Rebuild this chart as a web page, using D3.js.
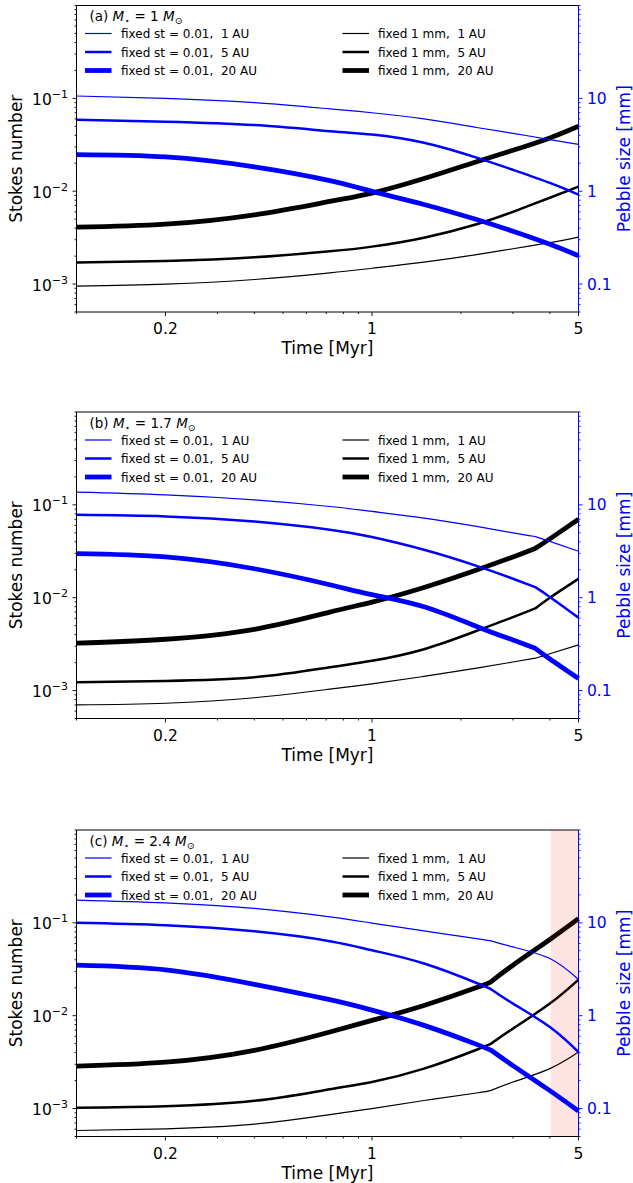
<!DOCTYPE html>
<html><head><meta charset="utf-8">
<script src="https://cdn.jsdelivr.net/npm/d3@7"></script>
<style>
body{margin:0;background:#fff}
text{font-family:"DejaVu Sans",sans-serif;white-space:pre}
</style>
</head><body>
<svg id="c" width="633" height="1183"></svg>
<script>
// ---------- data ----------
const panelLabels = ["(a)", "(b)", "(c)"];
const starMasses = ["1", "1.7", "2.4"];

const timesA = [0.1, 0.2, 0.4, 0.72, 1, 1.5, 2.26, 3, 4, 5];
const timesB = [0.1, 0.2, 0.4, 0.72, 1, 1.5, 2.26, 3, 3.57, 4, 5];
const timesC = [0.1, 0.2, 0.4, 0.72, 1, 1.5, 2.26, 2.53, 3, 4, 5];
const kinkIndex = [null, 8, 7];

// pebble size [mm] for fixed st = 0.01 (right axis)
const stA1 = [10.6, 10.0, 9.0, 7.7, 7.0, 6.0, 4.85, 4.2, 3.6, 3.2];
const stA5 = [5.9, 5.6, 5.15, 4.43, 4.08, 3.33, 2.3, 1.7, 1.23, 0.92];
const stA20 = [2.48, 2.34, 1.83, 1.30, 0.995, 0.72, 0.495, 0.37, 0.268, 0.202];
const stB1 = [13.7, 12.8, 11.3, 9.6, 8.5, 7.2, 5.86, 5.0, 4.56, 4.04, 3.16];
const stB5 = [7.8, 7.5, 6.6, 5.4, 4.5, 3.28, 2.2, 1.6, 1.3, 1.02, 0.61];
const stB20 = [2.98, 2.75, 2.05, 1.38, 1.08, 0.80, 0.49, 0.35, 0.285, 0.219, 0.135];
const stC1 = [17.6, 16.4, 14.3, 11.6, 9.95, 8.2, 6.75, 6.4, 5.5, 4.13, 2.45];
const stC5 = [10.0, 9.4, 8.1, 6.35, 5.07, 3.65, 2.25, 1.93, 1.35, 0.755, 0.406];
const stC20 = [3.5, 3.12, 2.18, 1.49, 1.15, 0.787, 0.491, 0.424, 0.29, 0.156, 0.094];

// Stokes number for fixed 1 mm (left axis)
const mmA1 = [0.00095, 0.001, 0.00112, 0.00132, 0.00148, 0.00172, 0.00207, 0.0024, 0.00279, 0.0032];
const mmA5 = [0.00171, 0.00177, 0.00194, 0.00225, 0.00253, 0.00316, 0.00441, 0.006, 0.0085, 0.0112];
const mmA20 = [0.0041, 0.00442, 0.00557, 0.00776, 0.00955, 0.0137, 0.0208, 0.0276, 0.0375, 0.050];
const mmB1 = [0.0007, 0.00073, 0.000837, 0.001035, 0.00118, 0.00142, 0.001746, 0.00203, 0.00223, 0.00249, 0.0031];
const mmB5 = [0.00123, 0.00127, 0.00139, 0.00178, 0.00209, 0.00279, 0.00439, 0.00617, 0.00767, 0.01, 0.016];
const mmB20 = [0.00324, 0.00357, 0.00457, 0.0070, 0.00897, 0.0129, 0.0199, 0.0275, 0.034, 0.043, 0.070];
const mmC1 = [0.00058, 0.000605, 0.00068, 0.00086, 0.001, 0.00122, 0.00147, 0.00157, 0.00193, 0.00269, 0.00406];
const mmC5 = [0.00102, 0.00106, 0.00121, 0.00161, 0.00193, 0.00269, 0.0043, 0.005, 0.00726, 0.0135, 0.0245];
const mmC20 = [0.00287, 0.00316, 0.00424, 0.00667, 0.0089, 0.0129, 0.0201, 0.0232, 0.035, 0.0662, 0.111];

const shadedSpan = [null, null, [4.03, 5]];

const xMajorTicks = [0.2, 1, 5];
const xMajorLabels = ["0.2", "1", "5"];
const yLeftMajor = [1e-3, 1e-2, 1e-1];
const yLeftExp = ["\u22123", "\u22122", "\u22121"];
const yRightMajor = [0.1, 1, 10];
const yRightLabels = ["0.1", "1", "10"];
const distances = ["1 AU", "5 AU", "20 AU"];

// ---------- layout ----------
const panels = [
  {times: timesA, st: [stA1, stA5, stA20], mm: [mmA1, mmA5, mmA20]},
  {times: timesB, st: [stB1, stB5, stB20], mm: [mmB1, mmB5, mmB20]},
  {times: timesC, st: [stC1, stC5, stC20], mm: [mmC1, mmC5, mmC20]}
];
const tops = [5.5, 412, 830];
const H = 306.5, L = 76.5, R = 578.5;
const widths = [1.2, 2.5, 4.8];
const BLUE = "#0000ff";

const svg = d3.select("#c");
const x = d3.scaleLog().domain([0.1, 5]).range([L, R]);

function pathFor(times, vals, y, kink) {
  const pts = times.map((t, i) => [x(t), y(vals[i])]);
  const gen = d3.line().curve(d3.curveNatural);
  if (kink == null) return gen(pts);
  return gen(pts.slice(0, kink + 1)) + gen(pts.slice(kink)).replace(/^M/, "L");
}

panels.forEach((p, pi) => {
  const top = tops[pi], bot = top + H;
  const yL = d3.scaleLog().domain([5e-4, 1]).range([bot, top]);
  const yR = d3.scaleLog().domain([0.05, 100]).range([bot, top]);
  const g = svg.append("g");

  // black lines (left axis)
  p.mm.forEach((vals, k) => {
    g.append("path").attr("d", pathFor(p.times, vals, yL, kinkIndex[pi]))
      .attr("fill", "none").attr("stroke", "#000").attr("stroke-width", widths[k])
      .attr("stroke-linejoin", "round");
  });
  // shaded span
  if (shadedSpan[pi]) {
    g.append("rect").attr("x", x(shadedSpan[pi][0])).attr("y", top)
      .attr("width", x(shadedSpan[pi][1]) - x(shadedSpan[pi][0])).attr("height", H)
      .attr("fill", "rgba(255,0,0,0.11)");
  }
  // blue lines (right axis)
  p.st.forEach((vals, k) => {
    g.append("path").attr("d", pathFor(p.times, vals, yR, kinkIndex[pi]))
      .attr("fill", "none").attr("stroke", BLUE).attr("stroke-width", widths[k])
      .attr("stroke-linejoin", "round");
  });

  // frame
  g.append("line").attr("x1", L).attr("x2", R).attr("y1", top).attr("y2", top).attr("stroke", "#000").attr("stroke-width", 1);
  g.append("line").attr("x1", L).attr("x2", R).attr("y1", bot).attr("y2", bot).attr("stroke", "#000").attr("stroke-width", 1);
  g.append("line").attr("x1", L).attr("x2", L).attr("y1", top).attr("y2", bot).attr("stroke", "#000").attr("stroke-width", 1);
  g.append("line").attr("x1", R).attr("x2", R).attr("y1", top).attr("y2", bot).attr("stroke", BLUE).attr("stroke-width", 1);

  // x ticks
  x.ticks().forEach(t => {
    const major = xMajorTicks.some(m => Math.abs(m - t) < 1e-9);
    g.append("line").attr("x1", x(t)).attr("x2", x(t)).attr("y1", bot).attr("y2", bot + (major ? 4 : 2))
      .attr("stroke", "#000").attr("stroke-width", 0.9);
  });
  xMajorTicks.forEach((t, i) => {
    g.append("text").attr("x", x(t)).attr("y", bot + 22).attr("text-anchor", "middle")
      .attr("font-size", 15.5).text(xMajorLabels[i]);
  });
  g.append("text").attr("x", (L + R) / 2).attr("y", bot + 42).attr("text-anchor", "middle")
    .attr("font-size", 17).text("Time [Myr]");

  // left ticks
  yL.ticks().forEach(v => {
    const major = yLeftMajor.some(m => Math.abs(Math.log10(m) - Math.log10(v)) < 1e-6);
    g.append("line").attr("x1", L).attr("x2", L - (major ? 4 : 2)).attr("y1", yL(v)).attr("y2", yL(v))
      .attr("stroke", "#000").attr("stroke-width", 0.9);
  });
  yLeftMajor.forEach((v, i) => {
    const t = g.append("text").attr("x", 68).attr("y", yL(v) + 6.5).attr("text-anchor", "end").attr("font-size", 15.5);
    t.append("tspan").text("10");
    t.append("tspan").attr("dy", -7).attr("font-size", 11).text(yLeftExp[i]);
  });
  g.append("text").attr("transform", `translate(22,${(top + bot) / 2}) rotate(-90)`)
    .attr("text-anchor", "middle").attr("font-size", 17).text("Stokes number");

  // right ticks
  yR.ticks().forEach(v => {
    const major = yRightMajor.some(m => Math.abs(Math.log10(m) - Math.log10(v)) < 1e-6);
    g.append("line").attr("x1", R).attr("x2", R + (major ? 4 : 2)).attr("y1", yR(v)).attr("y2", yR(v))
      .attr("stroke", BLUE).attr("stroke-width", 0.9);
  });
  yRightMajor.forEach((v, i) => {
    g.append("text").attr("x", 587).attr("y", yR(v) + 5.5).attr("font-size", 15.5)
      .attr("fill", BLUE).text(yRightLabels[i]);
  });
  g.append("text").attr("transform", `translate(630,${(top + bot) / 2}) rotate(-90)`)
    .attr("text-anchor", "middle").attr("font-size", 17).attr("fill", BLUE).text("Pebble size [mm]");

  // title
  const tt = g.append("text").attr("x", 89.5).attr("y", top + 15.5).attr("font-size", 13.5);
  tt.append("tspan").text(panelLabels[pi] + " ");
  tt.append("tspan").attr("font-style", "italic").text("M");
  tt.append("tspan").attr("dy", 3).attr("font-size", 9.5).text("\u22C6");
  tt.append("tspan").attr("dy", -3).text(" = " + starMasses[pi] + " ");
  tt.append("tspan").attr("font-style", "italic").text("M");
  tt.append("tspan").attr("dy", 3).attr("font-size", 9.5).text("\u2299");

  // legend
  const rows = [28, 46.5, 65];
  distances.forEach((d, k) => {
    const yy = top + rows[k];
    g.append("line").attr("x1", 85).attr("x2", 111.5).attr("y1", yy).attr("y2", yy)
      .attr("stroke", BLUE).attr("stroke-width", widths[k]);
    g.append("text").attr("x", 121).attr("y", yy + 4.5).attr("font-size", 12)
      .text("fixed st = 0.01,  " + d);
    g.append("line").attr("x1", 342.5).attr("x2", 369).attr("y1", yy).attr("y2", yy)
      .attr("stroke", "#000").attr("stroke-width", widths[k]);
    g.append("text").attr("x", 378).attr("y", yy + 4.5).attr("font-size", 12)
      .text("fixed 1 mm,  " + d);
  });
});
</script>
</body></html>
